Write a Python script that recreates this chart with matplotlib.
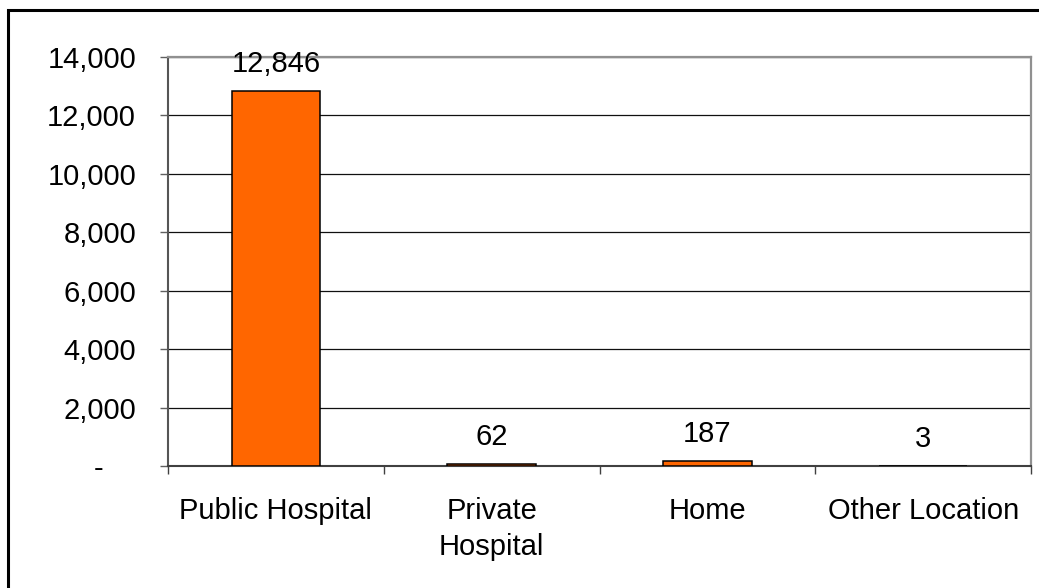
import matplotlib
matplotlib.use("Agg")
import matplotlib.pyplot as plt
from matplotlib.patches import Rectangle
from matplotlib.ticker import FixedLocator, FuncFormatter, MultipleLocator

plt.rcParams['font.family'] = ['Liberation Sans', 'DejaVu Sans']

locations = ["Public Hospital", "Private\nHospital", "Home", "Other Location"]
deaths = [12846, 62, 187, 3]
y_max = 14000
y_step = 2000

W, H, DPI = 1039, 588, 100
FS = 21
fig = plt.figure(figsize=(W / DPI, H / DPI), dpi=DPI)
fig.patch.set_facecolor("white")

# outer chart frame
fig.add_artist(Rectangle((7.5 / W, -20 / H), (W + 40) / W, (H - 10.5 + 20) / H,
                         transform=fig.transFigure, fill=False,
                         edgecolor="black", linewidth=2.2, zorder=10))

ax = fig.add_axes([168 / W, 1 - 466 / H, (1031 - 168) / W, (466 - 57) / H])

x = list(range(len(locations)))
bars = ax.bar(x, deaths, width=0.41, color="#FF6600", edgecolor="black",
              linewidth=1.1, zorder=3)

for xi, v in zip(x, deaths):
    ax.annotate(f"{v:,}", (xi, v), xytext=(0, 13.5), textcoords="offset points",
                ha="center", va="baseline", fontsize=FS, color="black", zorder=4)

ax.set_xlim(-0.5, len(locations) - 0.5)
ax.set_ylim(0, y_max)

# y axis
ax.yaxis.set_major_locator(MultipleLocator(y_step))
ax.yaxis.set_major_formatter(FuncFormatter(
    lambda v, p: "-    " if v == 0 else f"{v:,.0f}"))
ax.tick_params(axis="y", which="major", direction="out", length=6, width=1,
               color="#606060", pad=17, labelsize=FS)
ax.grid(axis="y", color="#101010", linewidth=0.9, zorder=1)

# x axis: ticks on category boundaries, labels in the middle
ax.xaxis.set_major_locator(FixedLocator([i - 0.5 for i in range(len(locations) + 1)]))
ax.xaxis.set_major_formatter(FuncFormatter(lambda v, p: ""))
ax.xaxis.set_minor_locator(FixedLocator(x))
ax.set_xticklabels(locations, minor=True)
ax.tick_params(axis="x", which="major", direction="out", length=6, width=1,
               color="#404040")
ax.tick_params(axis="x", which="minor", length=0, pad=22, labelsize=FS)
for lbl in ax.get_xticklabels(minor=True):
    lbl.set_linespacing(1.4)

for side in ("top", "right"):
    ax.spines[side].set_color("#909090")
    ax.spines[side].set_linewidth(1.6)
ax.spines["left"].set_color("#555555")
ax.spines["left"].set_linewidth(1.5)
ax.spines["bottom"].set_color("#404040")
ax.spines["bottom"].set_linewidth(1.5)
ax.set_axisbelow(True)

fig.savefig("out.png", dpi=DPI, facecolor="white")
